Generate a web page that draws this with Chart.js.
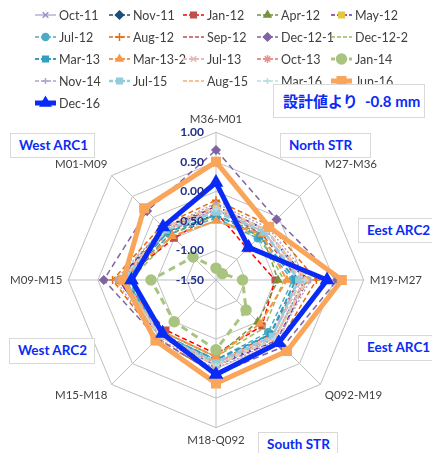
<!DOCTYPE html>
<html>
<head>
<meta charset="utf-8">
<script src="https://cdn.jsdelivr.net/npm/chart.js@4.4.0/dist/chart.umd.min.js"></script>
<style>
  body { margin: 0; background: #fff; }
  #wrap { position: relative; width: 432px; height: 453px; overflow: hidden; }
  #chart { position: absolute; left: 0; top: 0; }
  .tag {
    position: absolute; background: #fff; border: 1px solid #D9D9D9;
    color: #0A2BF5; font-family: Lato, "Noto Sans CJK JP", sans-serif; font-weight: bold;
    font-size: 13.5px; line-height: 23px; padding-left: 8px; box-sizing: border-box; white-space: nowrap;
  }
</style>
</head>
<body>
<div id="wrap">
  <canvas id="chart" width="432" height="453"></canvas>
  <div class="tag" style="left:273px;top:84px;width:152px;height:34px;line-height:32px;font-size:15px;padding-left:9px;">設計値より&nbsp;&nbsp;-0.8 mm</div>
  <div class="tag" style="left:10px;top:133px;width:85px;height:25px;">West ARC1</div>
  <div class="tag" style="left:280px;top:133px;width:91px;height:25px;">North STR</div>
  <div class="tag" style="left:358px;top:218px;width:80px;height:25px;">Eest ARC2</div>
  <div class="tag" style="left:9px;top:338px;width:86px;height:26px;">West ARC2</div>
  <div class="tag" style="left:358px;top:335px;width:80px;height:26px;">Eest ARC1</div>
  <div class="tag" style="left:258px;top:432px;width:80px;height:26px;">South STR</div>
</div>
<script>
// axis order clockwise from top
var axes = ['M36-M01', 'M27-M36', 'M19-M27', 'Q092-M19', 'M18-Q092', 'M15-M18', 'M09-M15', 'M01-M09'];
var tickValues = [1.0, 0.5, 0.0, -0.5, -1.0, -1.5];

var seriesNames = ['Oct-11', 'Nov-11', 'Jan-12', 'Apr-12', 'May-12',
                   'Jul-12', 'Aug-12', 'Sep-12', 'Dec-12-1', 'Dec-12-2',
                   'Mar-13', 'Mar-13-2', 'Jul-13', 'Oct-13', 'Jan-14',
                   'Nov-14', 'Jul-15', 'Aug-15', 'Mar-16', 'Jun-16',
                   'Dec-16'];

var oct11  = [-0.30, -0.35, -0.10, -0.15, -0.10, -0.20, 0.10, -0.30];
var nov11  = [-0.25, -0.30, 0.00, -0.10, -0.05, -0.15, 0.15, -0.25];
var jan12  = [-0.35, -0.75, -0.50, -0.40, -0.25, -0.30, 0.10, -0.50];
var apr12  = [-0.40, -0.40, -0.45, -0.50, -0.20, -0.25, 0.05, -0.40];
var may12  = [-0.25, -0.30, 0.05, -0.05, -0.05, -0.15, 0.15, -0.30];
var jul12  = [-0.45, -0.50, -0.20, -0.25, -0.15, -0.20, 0.00, -0.40];
var aug12  = [-0.15, -0.20, 0.20, 0.00, 0.10, -0.10, 0.25, -0.20];
var sep12  = [-0.30, -0.40, -0.10, -0.20, -0.10, -0.20, 0.10, -0.35];
var dec121 = [0.70, -0.05, 0.55, 0.10, 0.10, -0.10, 0.40, 0.15];
var dec122 = [-0.50, -0.45, -0.35, -0.35, -0.20, -0.25, -0.05, -0.45];
var mar13  = [-0.40, -0.45, -0.15, -0.20, -0.15, -0.20, 0.05, -0.35];
var mar132 = [-0.50, -0.40, -0.30, -0.45, -0.20, -0.25, 0.10, -0.45];
var jul13  = [-0.30, -0.35, -0.05, -0.15, -0.10, -0.20, 0.10, -0.30];
var oct13  = [-0.30, -0.30, 0.00, -0.10, -0.10, -0.15, 0.10, -0.30];
var jan14  = [-1.30, -1.35, -1.05, -0.78, -0.32, -0.50, -0.40, -0.95];
var nov14  = [-0.20, -0.25, 0.10, -0.05, 0.00, -0.10, 0.20, -0.25];
var jul15  = [-0.35, -0.35, -0.10, -0.15, -0.10, -0.15, 0.05, -0.30];
var aug15  = [-0.25, -0.30, 0.05, -0.10, -0.05, -0.15, 0.10, -0.25];
var mar16  = [-0.30, -0.30, 0.00, -0.10, -0.05, -0.15, 0.10, -0.30];
var jun16  = [0.50, -0.23, 0.63, 0.20, 0.25, -0.05, 0.07, 0.22];
var dec16  = [0.15, -0.72, 0.38, 0.00, 0.10, -0.22, -0.07, -0.23];

var allValues = [oct11, nov11, jan12, apr12, may12, jul12, aug12, sep12, dec121, dec122,
                 mar13, mar132, jul13, oct13, jan14, nov14, jul15, aug15, mar16, jun16, dec16];

// look of each series: color, width, dash, marker, marker size, marker fill
var looks = [
  ['#B8B0D8', 1.5, [], 'crossRot', 4, '#9A8FC8'],
  ['#1F4E79', 1.5, [5, 3], 'rectRot', 4, '#1F4E79'],
  ['#FF0000', 1.5, [5, 3], 'rect', 4, '#C0504D'],
  ['#77933C', 1.5, [5, 3], 'triangle', 4, '#77933C'],
  ['#7030A0', 1.5, [5, 3], 'rect', 4, '#E5C640'],
  ['#4BACC6', 1.5, [5, 3], 'circle', 3.5, '#4BACC6'],
  ['#E46C0A', 1.5, [5, 3], 'cross', 4, '#E46C0A'],
  ['#C0504D', 1.5, [5, 3], false, 0, '#C0504D'],
  ['#8064A2', 1.5, [6, 4], 'rectRot', 4, '#8064A2'],
  ['#9BBB59', 1.5, [5, 3], false, 0, '#9BBB59'],
  ['#31A0C0', 2, [6, 3], 'rect', 4, '#31A0C0'],
  ['#F79646', 2, [6, 3], 'triangle', 4, '#F79646'],
  ['#E6B9B8', 2, [6, 3], 'crossRot', 4, '#E6B9B8'],
  ['#E6958E', 2, [6, 3], 'star', 4, '#E6958E'],
  ['#A9C47F', 3, [7, 5], 'circle', 5, '#A9C47F'],
  ['#B3A2C7', 1.5, [2, 2], 'cross', 3, '#B3A2C7'],
  ['#93CDDD', 2.5, [6, 3], 'rect', 4, '#93CDDD'],
  ['#FAC090', 2, [6, 3], false, 0, '#FAC090'],
  ['#B7DEE8', 1.5, [2, 2], 'cross', 3, '#B7DEE8'],
  ['#F9A55A', 5, [], 'rect', 6, '#F9A55A'],
  ['#0A2BF5', 5, [], 'triangle', 7, '#0A2BF5']
];

var datasets = [];
for (var i = 0; i < seriesNames.length; i++) {
  var lk = looks[i];
  datasets.push({
    label: seriesNames[i],
    data: allValues[i],
    borderColor: lk[0],
    borderWidth: lk[1],
    borderDash: lk[2],
    pointStyle: lk[3],
    pointRadius: lk[4],
    pointBackgroundColor: lk[5],
    pointBorderColor: lk[5],
    pointBorderWidth: 1.5,
    backgroundColor: 'rgba(0,0,0,0)',
    fill: false,
    order: seriesNames.length - i   // later series on top, like Excel
  });
}

var tickColor = '#1F2D86';

// draw the ring values left of the vertical axis
var tickPlugin = {
  id: 'tickLabels',
  afterDraw: function (chart) {
    var ctx = chart.ctx;
    var r = chart.scales.r;
    ctx.save();
    ctx.font = 'bold 12px Lato';
    ctx.fillStyle = tickColor;
    ctx.textAlign = 'right';
    ctx.textBaseline = 'middle';
    for (var k = 0; k < tickValues.length; k++) {
      var d = r.getDistanceFromCenterForValue(tickValues[k]);
      ctx.fillText(tickValues[k].toFixed(2), r.xCenter - 12, r.yCenter - d);
    }
    ctx.restore();
  }
};

// legend in 5 columns like the Excel one
var legendPlugin = {
  id: 'gridLegend',
  afterDraw: function (chart) {
    var ctx = chart.ctx;
    var colX = [35, 109, 183, 257, 331];
    var rowY = [15, 37, 59, 81, 103];
    ctx.save();
    ctx.font = '12.5px Lato';
    ctx.textBaseline = 'middle';
    ctx.textAlign = 'left';
    for (var i = 0; i < datasets.length; i++) {
      var ds = datasets[i];
      var x = colX[i % 5], y = rowY[Math.floor(i / 5)];
      ctx.strokeStyle = ds.borderColor;
      ctx.lineWidth = ds.borderWidth;
      ctx.setLineDash(ds.borderDash.length ? [4, 2] : []);
      ctx.beginPath();
      ctx.moveTo(x, y);
      ctx.lineTo(x + 21, y);
      ctx.stroke();
      ctx.setLineDash([]);
      if (ds.pointStyle) {
        ctx.fillStyle = ds.pointBackgroundColor;
        ctx.strokeStyle = ds.pointBorderColor;
        ctx.lineWidth = 1.5;
        Chart.helpers.drawPoint(ctx, {
          pointStyle: ds.pointStyle, rotation: 0,
          radius: Math.min(ds.pointRadius, 6), borderWidth: 1.5
        }, x + 10.5, y);
      }
      ctx.fillStyle = '#404040';
      ctx.fillText(ds.label, x + 24, y + 1);
    }
    ctx.restore();
  }
};

var ctx = document.getElementById('chart').getContext('2d');
var chart = new Chart(ctx, {
  type: 'radar',
  data: { labels: axes, datasets: datasets },
  options: {
    responsive: false,
    animation: false,
    elements: { line: { tension: 0 } },
    layout: { padding: { top: 112, bottom: 4, left: 10, right: 10 } },
    plugins: {
      legend: { display: false },
      tooltip: { enabled: false }
    },
    scales: {
      r: {
        min: -1.5,
        max: 1.0,
        ticks: { stepSize: 0.5, display: false },
        grid: { color: '#BFBFBF', lineWidth: 1 },
        angleLines: { color: '#BFBFBF', lineWidth: 1 },
        pointLabels: { font: { size: 11.5, family: 'Lato' }, color: '#404040', padding: 6 }
      }
    }
  },
  plugins: [tickPlugin, legendPlugin]
});
</script>
</body>
</html>
